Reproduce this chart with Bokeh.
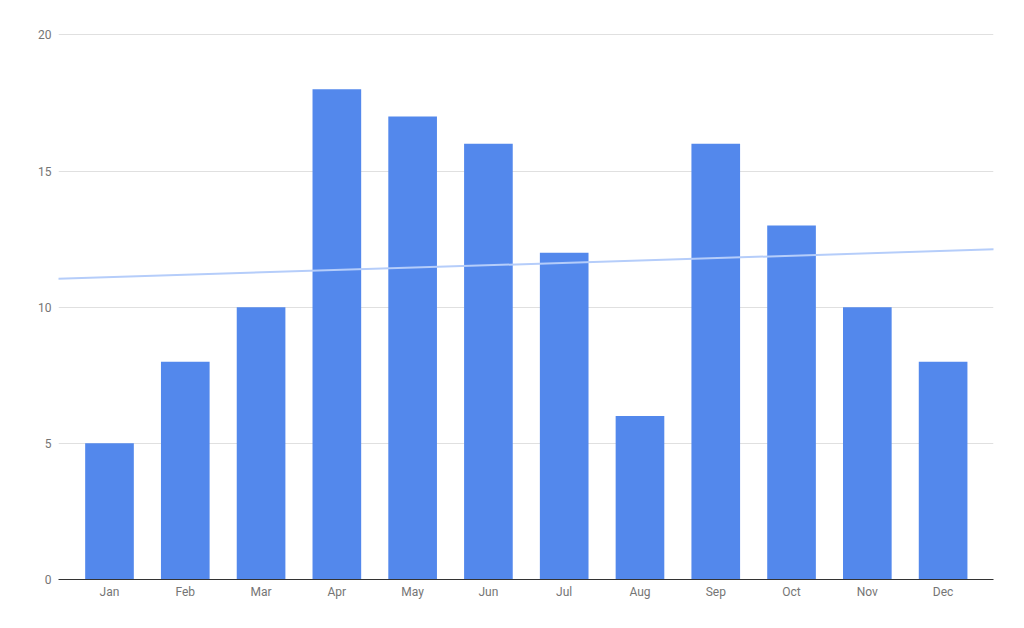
import numpy as np
from bokeh.plotting import figure
from bokeh.models import Range1d, FixedTicker, Slope, ColumnDataSource
from bokeh.embed import file_html
from bokeh.resources import INLINE

months = ["Jan", "Feb", "Mar", "Apr", "May", "Jun", "Jul", "Aug", "Sep", "Oct", "Nov", "Dec"]
values = [5, 8, 10, 18, 17, 16, 12, 6, 16, 13, 10, 8]
y_ticks = [0, 5, 10, 15, 20]

xs = list(range(len(months)))
src = ColumnDataSource(dict(x=xs, top=values, month=months))

p = figure(frame_width=935, frame_height=546, min_border_left=58, min_border_top=33,
           min_border_right=20, min_border_bottom=33,
           x_range=Range1d(-0.673, len(months) - 1 + 0.665), y_range=Range1d(0, 20.05),
           output_backend="svg", toolbar_location=None)

p.vbar(x="x", top="top", width=0.642, source=src, fill_color="#5388ec", line_color=None)

# linear trendline computed from the data
slope, intercept = np.polyfit(xs, values, 1)
p.add_layout(Slope(gradient=float(slope), y_intercept=float(intercept),
                   line_color="#b5cdfa", line_width=2))

p.outline_line_color = None
p.xgrid.grid_line_color = None
p.ygrid.grid_line_color = "#e0e0e0"
p.ygrid.ticker = FixedTicker(ticks=y_ticks)

p.yaxis.ticker = FixedTicker(ticks=y_ticks)
p.yaxis.axis_line_color = None
p.yaxis.major_tick_line_color = None
p.yaxis.minor_tick_line_color = None
p.yaxis.major_tick_out = 0
p.yaxis.major_label_standoff = 7

p.xaxis.ticker = FixedTicker(ticks=xs)
p.xaxis.major_label_overrides = {i: m for i, m in enumerate(months)}
p.xaxis.axis_line_color = "#333333"
p.xaxis.axis_line_width = 1
p.xaxis.major_tick_line_color = None
p.xaxis.minor_tick_line_color = None
p.xaxis.major_tick_out = 0
p.xaxis.major_label_standoff = 5

for ax in (p.xaxis, p.yaxis):
    ax.major_label_text_font = "Roboto"
    ax.major_label_text_font_size = "12px"
    ax.major_label_text_color = "#757575"

p.background_fill_color = "white"
p.border_fill_color = "white"

open("out.html", "w").write(file_html(p, INLINE))
